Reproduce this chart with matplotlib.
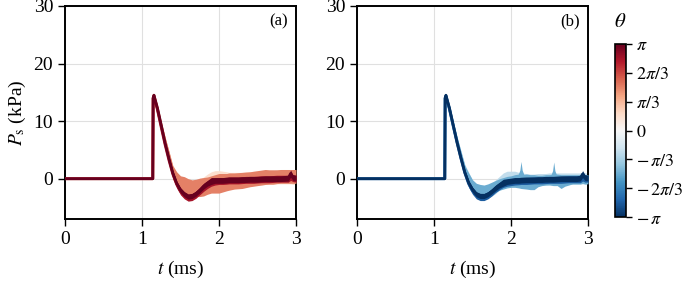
import numpy as np
import matplotlib
import matplotlib.pyplot as plt
from matplotlib.colors import Normalize

plt.rcParams["font.family"] = ["Liberation Serif", "DejaVu Serif"]
plt.rcParams["mathtext.fontset"] = "stix"

# %% data (time in ms, pressure in kPa)
t_ms = [0.0, 1.14, 1.145, 1.155, 1.2, 1.25, 1.3, 1.35, 1.4, 1.45, 1.5, 1.55, 1.6, 1.65,
        1.7, 1.75, 1.8, 1.85, 1.9, 1.95, 2.0, 2.05, 2.1, 2.13, 2.2, 2.25, 2.3, 2.35,
        2.4, 2.45, 2.5, 2.55, 2.6, 2.65, 2.7, 2.75, 2.8, 2.85, 2.9, 2.93, 2.96, 3.0]

# panel (a): theta > 0
theta_a = [np.pi / 6, np.pi / 2, 5 * np.pi / 6, np.pi]
p_a = [
    [0, 0, 14.0, 14.5, 12.2, 9.2, 6.4, 3.9, 1.2, 0.0, -0.8, -1.1, -1.4, -1.5, -1.4,
     -1.2, -0.8, -0.3, 0.0, 0.2, 0.2, 0.1, 0.0, -0.1, -0.1, -0.1, -0.1, 0.0, 0.0, 0.1,
     0.1, 0.1, 0.2, 0.2, 0.2, 0.3, 0.3, 0.3, 0.3, 0.3, 0.2, 0.2],
    [0, 0, 14.0, 14.5, 12.2, 9.2, 6.5, 3.9, 1.1, 0.0, -0.8, -1.1, -1.4, -1.6, -1.6,
     -1.5, -1.4, -1.2, -1.0, -0.9, -0.8, -0.7, -0.6, -0.5, -0.4, -0.35, -0.3, -0.2,
     -0.1, 0.0, 0.1, 0.2, 0.3, 0.3, 0.3, 0.35, 0.4, 0.4, 0.4, 0.4, 0.4, 0.4],
    [0, 0, 14.0, 14.3, 12.0, 8.9, 5.9, 3.2, 0.8, -1.0, -2.2, -2.9, -3.3, -3.2, -2.8,
     -2.2, -1.6, -1.1, -0.7, -0.5, -0.4, -0.4, -0.35, -0.3, -0.3, -0.3, -0.25, -0.2,
     -0.2, -0.2, -0.15, -0.1, -0.1, -0.1, -0.05, 0.0, 0.0, 0.0, 0.0, 0.3, 0.1, 0.0],
    [0, 0, 14.0, 14.5, 12.3, 9.3, 6.2, 3.5, 1.0, -0.8, -2.0, -2.7, -3.1, -3.0, -2.6,
     -2.0, -1.3, -0.8, -0.4, -0.3, -0.3, -0.3, -0.25, -0.2, -0.2, -0.2, -0.15, -0.15,
     -0.1, -0.1, -0.1, -0.05, 0.0, 0.0, 0.0, 0.0, 0.0, 0.05, 0.1, 0.9, 0.2, 0.1],
]
spread_a = [
    [0, 0, 0.2, 0.3, 0.4, 0.5, 0.6, 0.7, 0.9, 1.0, 1.0, 1.1, 1.1, 1.1, 1.1, 1.1, 1.1,
     1.1, 1.2, 1.2, 1.2, 1.2, 1.2, 1.2, 1.2, 1.2, 1.2, 1.2, 1.2, 1.2, 1.2, 1.2, 1.2,
     1.2, 1.2, 1.2, 1.2, 1.2, 1.2, 1.2, 1.2, 1.2],
    [0, 0, 0.2, 0.3, 0.5, 0.6, 0.7, 0.9, 1.2, 1.2, 1.3, 1.45, 1.4, 1.4, 1.5, 1.6, 1.6,
     1.5, 1.5, 1.6, 1.7, 1.6, 1.5, 1.5, 1.4, 1.4, 1.4, 1.35, 1.3, 1.3, 1.3, 1.3, 1.3,
     1.25, 1.25, 1.2, 1.2, 1.2, 1.2, 1.2, 1.2, 1.2],
    [0, 0, 0.2, 0.3, 0.4, 0.5, 0.5, 0.6, 0.6, 0.6, 0.6, 0.6, 0.6, 0.6, 0.6, 0.6, 0.6,
     0.6, 0.6, 0.6, 0.6, 0.6, 0.6, 0.6, 0.6, 0.6, 0.6, 0.6, 0.6, 0.6, 0.6, 0.6, 0.6,
     0.6, 0.6, 0.6, 0.6, 0.6, 0.6, 0.6, 0.6, 0.6],
    [0, 0, 0.2, 0.2, 0.3, 0.3, 0.3, 0.35, 0.4, 0.4, 0.45, 0.45, 0.45, 0.45, 0.45, 0.45,
     0.5, 0.5, 0.6, 0.5, 0.5, 0.5, 0.5, 0.5, 0.5, 0.5, 0.5, 0.5, 0.5, 0.5, 0.5, 0.5,
     0.5, 0.5, 0.5, 0.5, 0.5, 0.5, 0.5, 0.6, 0.5, 0.5],
]

# panel (b): theta < 0
theta_b = [-np.pi / 4, -np.pi / 2, -5 * np.pi / 6, -np.pi]
p_b = [
    [0, 0, 14.0, 14.3, 12.2, 9.2, 6.5, 4.0, 1.4, 0.0, -1.3, -2.0, -2.4, -2.5, -2.3,
     -1.9, -1.4, -0.8, -0.3, 0.0, 0.1, 0.1, 0.0, -0.1, -0.2, -0.2, -0.2, -0.1,
     -0.1, -0.1, 0.0, 0.0, 0.0, 0.0, 0.0, 0.0, 0.0, 0.0, 0.0, 0.1, 0.0, 0.0],
    [0, 0, 14.0, 14.3, 12.2, 9.3, 6.5, 3.9, 1.4, 0.0, -1.2, -1.8, -2.0, -2.1, -1.9,
     -1.6, -1.3, -1.0, -0.8, -0.6, -0.5, -0.4, -0.4, -0.5, -0.5, -0.6, -0.6, -0.4,
     -0.3, -0.2, -0.2, -0.2, -0.2, -0.5, -0.3, -0.2, -0.1, -0.1, -0.1, 0.0, -0.1, -0.1],
    [0, 0, 14.0, 14.4, 12.1, 9.1, 6.2, 3.5, 1.0, -0.9, -2.1, -2.9, -3.2, -3.2, -2.9,
     -2.4, -1.8, -1.3, -0.9, -0.7, -0.6, -0.5, -0.45, -0.4, -0.4, -0.35, -0.3, -0.3,
     -0.3, -0.25, -0.2, -0.2, -0.2, -0.2, -0.15, -0.1, -0.1, -0.1, -0.1, 0.2, 0.0, 0.0],
    [0, 0, 14.0, 14.5, 12.3, 9.3, 6.3, 3.6, 1.1, -0.7, -1.9, -2.7, -3.0, -3.0, -2.7,
     -2.2, -1.6, -1.1, -0.7, -0.5, -0.4, -0.3, -0.3, -0.25, -0.2, -0.2, -0.2, -0.15,
     -0.15, -0.1, -0.1, -0.1, -0.05, 0.0, 0.0, 0.0, 0.0, 0.0, 0.1, 0.8, 0.2, 0.1],
]
spread_b = [
    [0, 0, 0.2, 0.3, 0.5, 0.6, 0.7, 0.9, 1.1, 1.1, 1.1, 1.1, 1.1, 1.1, 1.1, 1.1, 1.2,
     1.2, 1.3, 1.3, 1.2, 1.2, 1.1, 1.1, 1.1, 1.0, 1.0, 1.0, 1.0, 1.0, 1.0, 1.0, 1.0,
     1.0, 1.0, 1.0, 1.0, 1.0, 1.0, 1.0, 1.0, 1.0],
    [0, 0, 0.2, 0.3, 0.5, 0.6, 0.7, 0.8, 0.9, 1.0, 1.0, 1.0, 1.0, 1.0, 1.0, 1.0, 1.0,
     1.0, 1.0, 1.0, 1.0, 1.1, 1.2, 1.2, 1.3, 1.3, 1.3, 1.0, 0.9, 0.9, 0.9, 1.0, 1.0,
     1.2, 1.0, 0.9, 0.8, 0.8, 0.8, 0.8, 0.8, 0.8],
    [0, 0, 0.2, 0.3, 0.4, 0.5, 0.5, 0.6, 0.6, 0.6, 0.6, 0.6, 0.6, 0.6, 0.6, 0.6, 0.6,
     0.6, 0.6, 0.6, 0.6, 0.6, 0.6, 0.6, 0.6, 0.6, 0.6, 0.6, 0.6, 0.6, 0.6, 0.6, 0.6,
     0.6, 0.6, 0.6, 0.6, 0.6, 0.6, 0.6, 0.6, 0.6],
    [0, 0, 0.2, 0.2, 0.3, 0.3, 0.3, 0.35, 0.4, 0.4, 0.45, 0.45, 0.45, 0.45, 0.45, 0.45,
     0.5, 0.5, 0.6, 0.5, 0.5, 0.5, 0.5, 0.5, 0.5, 0.5, 0.5, 0.5, 0.5, 0.5, 0.5, 0.5,
     0.5, 0.5, 0.5, 0.5, 0.5, 0.5, 0.5, 0.6, 0.5, 0.5],
]

# two short pressure spikes of the theta = -pi/2 trace in panel (b)
spike_theta = -np.pi / 2
spike_t = [[2.095, 2.115, 2.13, 2.145, 2.165], [2.52, 2.54, 2.555, 2.57, 2.59]]
spike_hi = [[0.8, 1.5, 3.0, 1.5, 0.8], [0.7, 1.4, 2.9, 1.4, 0.7]]
spike_lo = [[-0.5, -0.4, -0.3, -0.4, -0.5], [-0.4, -0.3, -0.2, -0.3, -0.4]]

cbar_ticks = [-np.pi, -2 * np.pi / 3, -np.pi / 3, 0, np.pi / 3, 2 * np.pi / 3, np.pi]
cbar_labels = [r"$-\,\pi$", r"$-\,2\pi/3$", r"$-\,\pi/3$", r"$0$",
               r"$\pi/3$", r"$2\pi/3$", r"$\pi$"]

# %% plot
cmap = plt.get_cmap("RdBu_r")
norm = Normalize(vmin=-np.pi, vmax=np.pi)

fig = plt.figure(figsize=(6.9, 2.84), dpi=100)
ax_a = fig.add_axes([65 / 690, 65 / 284, 231 / 690, 213 / 284])
ax_b = fig.add_axes([357 / 690, 65 / 284, 231 / 690, 213 / 284])
cax = fig.add_axes([615 / 690, 67 / 284, 11 / 690, 173 / 284])

t = np.array(t_ms)
for ax, thetas, ps, spreads, tag in [
    (ax_a, theta_a, p_a, spread_a, "(a)"),
    (ax_b, theta_b, p_b, spread_b, "(b)"),
]:
    for i, (th, p, s) in enumerate(zip(thetas, ps, spreads)):
        p = np.array(p)
        s = np.array(s)
        c = cmap(norm(th))
        ax.fill_between(t, p - s, p + s, color=c, lw=0, zorder=2 + i)
        ax.plot(t, p, color=c, lw=2.0, zorder=2 + i)
        if ax is ax_b and th == spike_theta:
            for st, lo, hi in zip(spike_t, spike_lo, spike_hi):
                ax.fill_between(st, lo, hi, color=c, lw=0, zorder=2 + i)
    ax.set_xlim(0, 3)
    ax.set_ylim(-7, 30)
    ax.set_xticks([0, 1, 2, 3])
    ax.set_yticks([0, 10, 20, 30])
    ax.grid(True, color="#e0e0e0", lw=0.8, zorder=0)
    ax.set_axisbelow(True)
    ax.tick_params(labelsize=14, length=5, width=1, direction="out")
    for sp in ax.spines.values():
        sp.set_linewidth(1.4)
    ax.set_xlabel(r"$t$ (ms)", fontsize=14, labelpad=8)
    ax.text(2.9, 27.3, tag, fontsize=12, ha="right", va="center")

ax_a.set_ylabel(r"$P_\mathrm{s}$ (kPa)", fontsize=14, labelpad=4)

sm = matplotlib.cm.ScalarMappable(norm=norm, cmap=cmap)
cbar = fig.colorbar(sm, cax=cax, ticks=cbar_ticks)
cbar.ax.set_yticklabels(cbar_labels)
cbar.ax.tick_params(labelsize=13, length=4, width=1)
cbar.outline.set_linewidth(1.2)
cbar.ax.set_title(r"$\theta$", fontsize=15, pad=12)

plt.savefig("out.png", dpi=100)
